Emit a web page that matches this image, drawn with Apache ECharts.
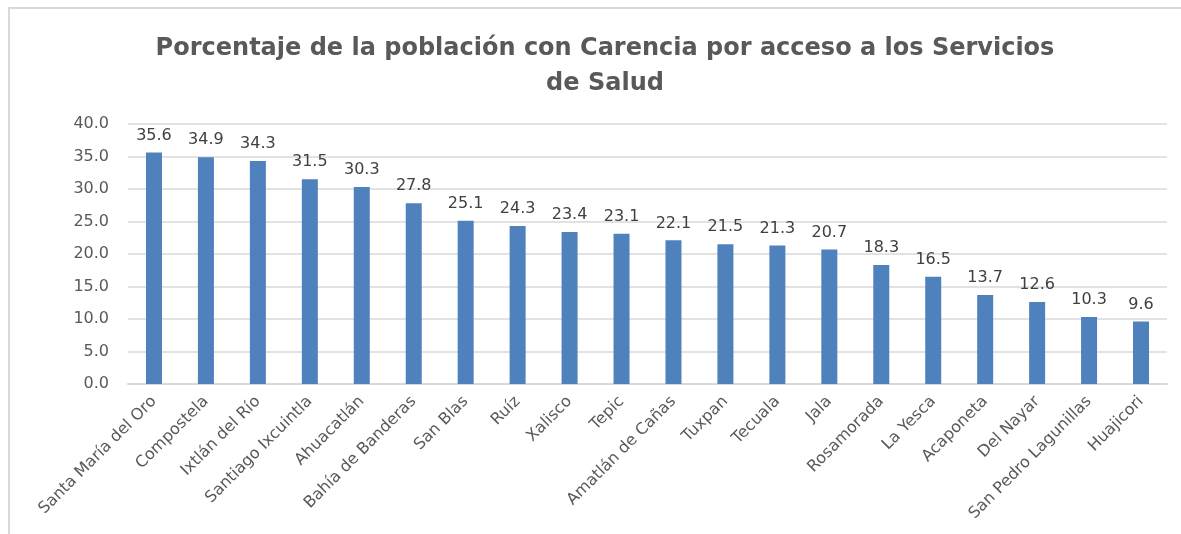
<!DOCTYPE html>
<html>
<head>
<meta charset="utf-8">
<script src="https://cdn.jsdelivr.net/npm/echarts@6/dist/echarts.min.js"></script>
<style>
  html, body { margin: 0; padding: 0; background: #fff; }
  #chart { width: 1181px; height: 534px; }
</style>
</head>
<body>
<div id="chart"></div>
<script>
const municipios = [
  'Santa María del Oro', 'Compostela', 'Ixtlán del Río', 'Santiago Ixcuintla',
  'Ahuacatlán', 'Bahía de Banderas', 'San Blas', 'Ruíz', 'Xalisco', 'Tepic',
  'Amatlán de Cañas', 'Tuxpan', 'Tecuala', 'Jala', 'Rosamorada', 'La Yesca',
  'Acaponeta', 'Del Nayar', 'San Pedro Lagunillas', 'Huajicori'
]
const porcentajes = [
  35.6, 34.9, 34.3, 31.5, 30.3, 27.8, 25.1, 24.3, 23.4, 23.1,
  22.1, 21.5, 21.3, 20.7, 18.3, 16.5, 13.7, 12.6, 10.3, 9.6
]
const titulo = 'Porcentaje de la población con Carencia por acceso a los Servicios\nde Salud'

const chart = echarts.init(document.getElementById('chart'))
const option = {
  animation: false,
  textStyle: { fontFamily: 'DejaVu Sans' },
  graphic: [
    {
      type: 'rect',
      shape: { x: 9, y: 8, width: 1200, height: 600 },
      style: { fill: 'none', stroke: '#d9d9d9', lineWidth: 2 }
    }
  ],
  title: {
    text: titulo,
    left: 600,
    textAlign: 'center',
    top: 26,
    textStyle: {
      fontFamily: 'DejaVu Sans',
      fontWeight: 'bold',
      fontSize: 24,
      lineHeight: 35,
      color: '#595959'
    }
  },
  grid: {
    left: 128,
    right: 14,
    top: 124,
    bottom: 150,
    containLabel: false
  },
  xAxis: {
    type: 'category',
    data: municipios,
    axisTick: { show: false },
    axisLine: { lineStyle: { color: '#d9d9d9', width: 2 } },
    axisLabel: {
      rotate: 45,
      interval: 0,
      margin: 15,
      fontSize: 16,
      color: '#595959'
    }
  },
  yAxis: {
    type: 'value',
    min: 0,
    max: 40,
    interval: 5,
    axisLine: { show: false },
    axisTick: { show: false },
    splitLine: { lineStyle: { color: '#d9d9d9', width: 1.5 } },
    axisLabel: {
      margin: 19,
      fontSize: 16,
      color: '#595959',
      formatter: v => v.toFixed(1)
    }
  },
  series: [
    {
      type: 'bar',
      data: porcentajes,
      barWidth: 16,
      itemStyle: { color: '#4f81bd' },
      label: {
        show: true,
        position: 'top',
        distance: 9,
        fontSize: 16,
        color: '#404040',
        formatter: p => p.value.toFixed(1)
      }
    }
  ]
}
chart.setOption(option)
</script>
</body>
</html>
